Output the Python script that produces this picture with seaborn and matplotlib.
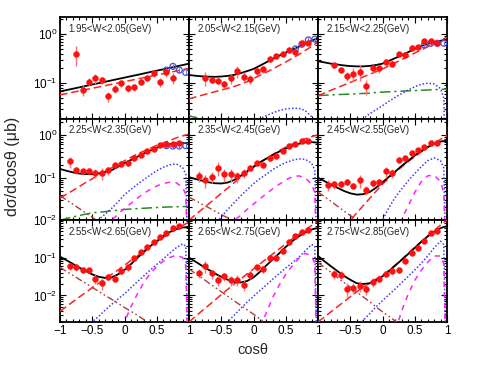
import numpy as np
import pandas as pd
import matplotlib
matplotlib.use("Agg")
import matplotlib.pyplot as plt
import seaborn as sns
from matplotlib.ticker import LogLocator, NullFormatter, FixedLocator, FixedFormatter, MultipleLocator

sns.set_theme(style="ticks")
plt.rcParams['font.family'] = ['Liberation Sans', 'DejaVu Sans']
plt.rcParams['mathtext.fontset'] = 'custom'
plt.rcParams['mathtext.rm'] = 'Liberation Sans'
plt.rcParams['mathtext.it'] = 'Liberation Sans:italic'
plt.rcParams['axes.unicode_minus'] = True

N = None

# cos(theta) grid on which the model curves were read
G = [-1.0, -0.9, -0.8, -0.7, -0.6, -0.5, -0.4, -0.3, -0.2, -0.1, 0.0,
     0.1, 0.2, 0.3, 0.4, 0.5, 0.6, 0.7, 0.8, 0.9, 0.95, 1.0]

titles = ["1.95<W<2.05(GeV)", "2.05<W<2.15(GeV)", "2.15<W<2.25(GeV)",
          "2.25<W<2.35(GeV)", "2.35<W<2.45(GeV)", "2.45<W<2.55(GeV)",
          "2.55<W<2.65(GeV)", "2.65<W<2.75(GeV)", "2.75<W<2.85(GeV)"]

# ---------------- data points (red: this work, blue: other data) -------------
x18 = [-0.85, -0.75, -0.65, -0.55, -0.45, -0.35, -0.25, -0.15, -0.05,
       0.05, 0.15, 0.25, 0.35, 0.45, 0.55, 0.65, 0.75, 0.85]

p1_x = x18[1:17]
p1_y = [0.39, 0.073, 0.108, 0.126, 0.116, 0.054, 0.076, 0.10, 0.079, 0.083,
        0.108, 0.13, 0.16, 0.105, 0.17, 0.13]
p1_e = [0.17, 0.018, 0.02, 0.03, 0.02, 0.012, 0.014, 0.015, 0.012, 0.013,
        0.018, 0.02, 0.025, 0.02, 0.035, 0.035]
p1_bx = [0.65, 0.75, 0.85, 0.95]
p1_by = [0.185, 0.22, 0.185, 0.165]

p2_x = x18[1:]
p2_y = [0.126, 0.117, 0.111, 0.097, 0.126, 0.178, 0.136, 0.122, 0.178, 0.195,
        0.31, 0.36, 0.39, 0.47, 0.44, 0.65, 0.67]
p2_e = [0.04, 0.015, 0.015, 0.015, 0.03, 0.05, 0.03, 0.025, 0.03, 0.03,
        0.04, 0.04, 0.04, 0.05, 0.05, 0.07, 0.07]
p2_bx = [0.65, 0.75, 0.85, 0.95]
p2_by = [0.50, 0.62, 0.76, 0.79]

p3_x = x18[1:]
p3_y = [0.23, 0.19, 0.14, 0.155, 0.17, 0.088, 0.2, 0.2, 0.27, 0.25, 0.39,
        0.37, 0.53, 0.55, 0.72, 0.73, 0.67]
p3_e = [0.03, 0.02, 0.03, 0.05, 0.06, 0.03, 0.04, 0.04, 0.04, 0.04, 0.05,
        0.05, 0.06, 0.06, 0.08, 0.08, 0.08]
p3_bx = [0.65, 0.75, 0.85, 0.95]
p3_by = [0.60, 0.65, 0.65, 0.65]

p4_x = x18
p4_y = [0.24, 0.15, 0.14, 0.145, 0.13, 0.13, 0.148, 0.195, 0.21, 0.22, 0.29,
        0.34, 0.43, 0.47, 0.58, 0.60, 0.60, 0.66]
p4_e = [0.07, 0.03, 0.02, 0.02, 0.03, 0.04, 0.03, 0.03, 0.03, 0.03, 0.04,
        0.04, 0.05, 0.05, 0.06, 0.06, 0.06, 0.07]
p4_bx = [0.65, 0.75, 0.85, 0.95]
p4_by = [0.56, 0.55, 0.55, 0.56]

p5_x = x18
p5_y = [0.11, 0.086, 0.105, 0.17, 0.12, 0.12, 0.107, 0.13, 0.17, 0.22, 0.2,
        0.29, 0.33, 0.42, 0.56, 0.62, 0.73, 0.73]
p5_e = [0.03, 0.03, 0.03, 0.06, 0.04, 0.04, 0.03, 0.03, 0.03, 0.03, 0.03,
        0.04, 0.04, 0.05, 0.06, 0.06, 0.07, 0.07]

p6_x = x18
p6_y = [0.068, 0.07, 0.07, 0.079, 0.065, 0.086, 0.052, 0.074, 0.078, 0.14,
        0.13, 0.26, 0.29, 0.37, 0.45, 0.53, 0.66, 0.64]
p6_e = [0.02, 0.015, 0.012, 0.012, 0.012, 0.03, 0.012, 0.015, 0.015, 0.04,
        0.03, 0.04, 0.04, 0.04, 0.05, 0.05, 0.06, 0.06]

p7_x = x18
p7_y = [0.06, 0.055, 0.048, 0.046, 0.028, 0.021, 0.031, 0.028, 0.045, 0.055,
        0.095, 0.14, 0.19, 0.26, 0.35, 0.45, 0.59, 0.67]
p7_e = [0.012, 0.01, 0.008, 0.008, 0.008, 0.007, 0.006, 0.006, 0.008, 0.01,
        0.012, 0.015, 0.02, 0.025, 0.03, 0.04, 0.05, 0.05]

p8_x = x18
p8_y = [0.039, 0.06, 0.038, 0.026, 0.032, 0.025, 0.026, 0.019, 0.035, 0.055,
        0.05, 0.1, 0.1, 0.15, 0.25, 0.37, 0.48, 0.52]
p8_e = [0.01, 0.02, 0.01, 0.008, 0.008, 0.007, 0.008, 0.006, 0.008, 0.01,
        0.01, 0.015, 0.015, 0.02, 0.03, 0.04, 0.05, 0.05]

p9_x = x18[1:]
p9_y = [0.037, 0.035, 0.015, 0.016, 0.018, 0.015, 0.023, 0.028, 0.037, 0.045,
        0.047, 0.082, 0.135, 0.18, 0.28, 0.45, 0.5]
p9_e = [0.01, 0.008, 0.006, 0.005, 0.006, 0.005, 0.006, 0.006, 0.007, 0.008,
        0.008, 0.012, 0.02, 0.025, 0.03, 0.04, 0.05]

# ---------------- model curves read on grid G --------------------------------
# total (black), t-channel (red dashed), s-channel (blue dotted),
# s-channel second (magenta dashed), contact (green dash-dot), u-channel (brown)
p1_tot = [0.068, 0.0726, 0.0774, 0.0826, 0.0882, 0.0941, 0.1004, 0.1071, 0.1143, 0.122, 0.130,
          0.139, 0.148, 0.158, 0.169, 0.180, 0.192, 0.205, 0.219, 0.234, 0.242, 0.25]
p1_t = [0.058, 0.0617, 0.0656, 0.0698, 0.0743, 0.079, 0.084, 0.0894, 0.0951, 0.1012, 0.1077,
        0.1146, 0.1219, 0.1297, 0.138, 0.1468, 0.1562, 0.1662, 0.1768, 0.1881, 0.194, 0.200]

p2_tot = [0.147, 0.142, 0.138, 0.136, 0.135, 0.137, 0.141, 0.148, 0.160, 0.176, 0.195,
          0.228, 0.267, 0.312, 0.365, 0.42, 0.48, 0.55, 0.63, 0.73, 0.78, 0.83]
p2_t = [0.048, 0.0525, 0.057, 0.062, 0.067, 0.073, 0.079, 0.086, 0.095, 0.107, 0.125,
        0.145, 0.168, 0.195, 0.23, 0.27, 0.32, 0.38, 0.46, 0.56, 0.62, 0.68]
p2_s = [N, N, N, N, N, N, N, N, N, 0.013, 0.016,
        0.019, 0.022, 0.025, 0.028, 0.030, 0.031, 0.031, 0.028, 0.021, 0.014, 1e-4]
p2_c = [0.022, 0.020, 0.018, 0.016, N, N, N, N, N, N, N,
        N, N, N, N, N, N, N, N, N, N, N]

p3_tot = [0.28, 0.265, 0.25, 0.24, 0.23, 0.223, 0.22, 0.22, 0.225, 0.235, 0.25,
          0.285, 0.325, 0.375, 0.43, 0.50, 0.57, 0.63, 0.69, 0.73, 0.75, 0.76]
p3_t = [0.056, 0.063, 0.072, 0.081, 0.092, 0.104, 0.118, 0.134, 0.152, 0.172, 0.195,
        0.226, 0.262, 0.304, 0.353, 0.41, 0.475, 0.55, 0.64, 0.74, 0.80, 0.86]
p3_s = [N, N, N, N, N, N, 0.015, 0.019, 0.024, 0.029, 0.035,
        0.043, 0.052, 0.062, 0.073, 0.085, 0.095, 0.10, 0.097, 0.078, 0.05, 1e-4]
p3_c = [0.056, 0.057, 0.058, 0.059, 0.0595, 0.060, 0.061, 0.062, 0.063, 0.065, 0.066,
        0.067, 0.068, 0.069, 0.070, 0.071, 0.072, 0.073, 0.074, 0.075, 0.0755, 0.076]

p4_tot = [0.16, 0.145, 0.133, 0.125, 0.121, 0.121, 0.126, 0.135, 0.15, 0.18, 0.22,
          0.26, 0.31, 0.37, 0.43, 0.50, 0.56, 0.61, 0.64, 0.65, 0.645, 0.64]
p4_t = [0.033, 0.041, 0.05, 0.062, 0.077, 0.094, 0.115, 0.14, 0.17, 0.205, 0.25,
        0.30, 0.36, 0.42, 0.49, 0.57, 0.65, 0.74, 0.85, 0.95, 1.0, 1.05]
p4_s = [N, N, N, N, N, 0.008, 0.0105, 0.014, 0.019, 0.027, 0.04,
        0.053, 0.07, 0.09, 0.115, 0.145, 0.175, 0.20, 0.21, 0.175, 0.12, 1e-4]
p4_m = [N, N, N, N, N, N, N, 0.007, 0.01, 0.014, 0.019,
        0.025, 0.033, 0.043, 0.053, 0.064, 0.073, 0.078, 0.076, 0.06, 0.04, 1e-4]
p4_c = [0.010, 0.011, 0.012, 0.013, 0.014, 0.015, 0.0155, 0.016, 0.0167, 0.0173, 0.018,
        0.0184, 0.0188, 0.0192, 0.0196, 0.020, 0.0203, 0.0206, 0.0208, 0.021, 0.021, 0.0212]
p4_u = [0.038, 0.030, 0.0238, 0.0188, 0.0149, 0.0118, 0.0093, 0.0074, N, N, N,
        N, N, N, N, N, N, N, N, N, N, N]

p5_tot = [0.103, 0.093, 0.085, 0.078, 0.074, 0.073, 0.077, 0.088, 0.11, 0.14, 0.18,
          0.23, 0.28, 0.34, 0.41, 0.48, 0.56, 0.62, 0.67, 0.68, 0.67, 0.66]
p5_t = [0.01, 0.0135, 0.018, 0.024, 0.032, 0.043, 0.057, 0.076, 0.10, 0.135, 0.175,
        0.225, 0.28, 0.35, 0.43, 0.52, 0.61, 0.71, 0.81, 0.91, 0.96, 1.0]
p5_s = [N, N, N, N, 0.008, 0.012, 0.018, 0.026, 0.037, 0.052, 0.072,
        0.095, 0.12, 0.155, 0.19, 0.225, 0.255, 0.275, 0.27, 0.22, 0.15, 1e-4]
p5_m = [N, N, N, N, N, N, 0.0075, 0.010, 0.013, 0.018, 0.024,
        0.032, 0.042, 0.055, 0.07, 0.088, 0.105, 0.11, 0.10, 0.07, 0.045, 1e-4]
p5_u = [0.035, 0.029, 0.024, 0.020, 0.0165, 0.0137, 0.0114, 0.0095, 0.0079, N, N,
        N, N, N, N, N, N, N, N, N, N, N]

p6_tot = [0.10, 0.083, 0.069, 0.058, 0.049, 0.043, 0.040, 0.041, 0.046, 0.058, 0.078,
          0.105, 0.14, 0.19, 0.25, 0.33, 0.42, 0.52, 0.62, 0.70, 0.72, 0.72]
p6_t = [N, N, N, N, 0.0068, 0.010, 0.0148, 0.022, 0.0325, 0.048, 0.07,
        0.098, 0.135, 0.18, 0.24, 0.31, 0.40, 0.51, 0.64, 0.79, 0.88, 0.97]
p6_s = [N, N, N, N, N, N, N, N, N, 0.007, 0.01,
        0.02, 0.035, 0.055, 0.085, 0.125, 0.18, 0.25, 0.29, 0.25, 0.17, 1e-4]
p6_m = [N, N, N, N, N, N, N, N, N, N, N,
        N, 0.005, 0.011, 0.022, 0.045, 0.08, 0.11, 0.115, 0.08, 0.045, 1e-4]
p6_u = [0.046, 0.036, 0.028, 0.0215, 0.0167, 0.013, 0.010, 0.0078, N, N, N,
        N, N, N, N, N, N, N, N, N, N, N]

p7_tot = [0.106, 0.085, 0.068, 0.054, 0.044, 0.036, 0.031, 0.029, 0.030, 0.036, 0.047,
          0.067, 0.098, 0.14, 0.20, 0.27, 0.37, 0.47, 0.56, 0.62, 0.63, 0.64]
p7_t = [0.0038, 0.0051, 0.0068, 0.0091, 0.012, 0.016, 0.021, 0.028, 0.036, 0.047, 0.063,
        0.084, 0.11, 0.15, 0.20, 0.26, 0.34, 0.44, 0.56, 0.70, 0.78, 0.85]
p7_s = [N, N, N, N, 0.0014, 0.002, 0.0028, 0.0041, 0.0058, 0.0081, 0.011,
        0.016, 0.023, 0.033, 0.047, 0.066, 0.092, 0.13, 0.18, 0.23, 0.2, 1e-5]
p7_m = [N, N, N, N, N, N, N, N, N, 0.0008, 0.002,
        0.005, 0.011, 0.022, 0.038, 0.058, 0.08, 0.1, 0.115, 0.1, 0.06, 1e-5]
p7_u = [0.055, 0.043, 0.034, 0.0265, 0.021, 0.0163, 0.0128, 0.010, 0.0079, 0.0062, 0.0048,
        0.0038, 0.003, 0.0023, 0.0018, N, N, N, N, N, N, N]

p8_tot = [0.10, 0.078, 0.061, 0.048, 0.038, 0.031, 0.026, 0.023, 0.022, 0.024, 0.030,
          0.042, 0.062, 0.09, 0.13, 0.19, 0.27, 0.36, 0.46, 0.55, 0.58, 0.6]
p8_t = [0.002, 0.0028, 0.0039, 0.0054, 0.0075, 0.0105, 0.0145, 0.02, 0.027, 0.037, 0.05,
        0.068, 0.092, 0.125, 0.17, 0.23, 0.31, 0.41, 0.54, 0.70, 0.8, 0.9]
p8_s = [N, N, N, N, N, 0.0014, 0.002, 0.003, 0.0045, 0.0066, 0.0095,
        0.0135, 0.019, 0.027, 0.038, 0.053, 0.073, 0.10, 0.15, 0.22, 0.2, 1e-5]
p8_m = [N, N, N, N, N, N, N, N, N, N, N,
        0.0015, 0.0035, 0.009, 0.019, 0.036, 0.06, 0.095, 0.13, 0.11, 0.07, 1e-5]
p8_u = [0.05, 0.038, 0.029, 0.0218, 0.0165, 0.0126, 0.0095, 0.0072, 0.0055, 0.0042, 0.0032,
        0.0024, 0.0018, N, N, N, N, N, N, N, N, N]

p9_tot = [0.11, 0.08, 0.059, 0.044, 0.033, 0.026, 0.021, 0.020, 0.021, 0.025, 0.032,
          0.044, 0.062, 0.088, 0.125, 0.18, 0.26, 0.36, 0.48, 0.6, 0.64, 0.67]
p9_t = [0.002, 0.0027, 0.0037, 0.005, 0.0068, 0.0092, 0.0125, 0.0165, 0.021, 0.027, 0.034,
        0.046, 0.064, 0.09, 0.13, 0.185, 0.26, 0.37, 0.52, 0.72, 0.85, 0.98]
p9_s = [N, N, N, N, N, N, 0.0015, 0.0022, 0.0033, 0.005, 0.0073,
        0.0105, 0.015, 0.022, 0.032, 0.047, 0.07, 0.11, 0.18, 0.27, 0.22, 1e-5]
p9_m = [N, N, N, N, N, N, N, N, N, N, N,
        N, 0.0012, 0.004, 0.011, 0.025, 0.046, 0.075, 0.11, 0.11, 0.07, 1e-5]
p9_u = [0.074, 0.055, 0.041, 0.030, 0.022, 0.0167, 0.0123, 0.0092, 0.0068, 0.005, 0.0037,
        0.0028, 0.0021, 0.0015, N, N, N, N, N, N, N, N]

row_ylims = [(0.019, 2.2), (0.01, 2.4), (0.002, 0.96)]

panels = [
    dict(x=p1_x, y=p1_y, e=p1_e, bx=p1_bx, by=p1_by, curves=dict(tot=p1_tot, t=p1_t)),
    dict(x=p2_x, y=p2_y, e=p2_e, bx=p2_bx, by=p2_by, curves=dict(tot=p2_tot, t=p2_t, s=p2_s, c=p2_c)),
    dict(x=p3_x, y=p3_y, e=p3_e, bx=p3_bx, by=p3_by, curves=dict(tot=p3_tot, t=p3_t, s=p3_s, c=p3_c)),
    dict(x=p4_x, y=p4_y, e=p4_e, bx=p4_bx, by=p4_by,
         curves=dict(tot=p4_tot, t=p4_t, s=p4_s, m=p4_m, c=p4_c, u=p4_u)),
    dict(x=p5_x, y=p5_y, e=p5_e, curves=dict(tot=p5_tot, t=p5_t, s=p5_s, m=p5_m, u=p5_u)),
    dict(x=p6_x, y=p6_y, e=p6_e, curves=dict(tot=p6_tot, t=p6_t, s=p6_s, m=p6_m, u=p6_u)),
    dict(x=p7_x, y=p7_y, e=p7_e, curves=dict(tot=p7_tot, t=p7_t, s=p7_s, m=p7_m, u=p7_u)),
    dict(x=p8_x, y=p8_y, e=p8_e, curves=dict(tot=p8_tot, t=p8_t, s=p8_s, m=p8_m, u=p8_u)),
    dict(x=p9_x, y=p9_y, e=p9_e, curves=dict(tot=p9_tot, t=p9_t, s=p9_s, m=p9_m, u=p9_u)),
]

styles = {
    'c':   dict(color='#2e8b22', ls=(0, (7, 2.5, 1.5, 2.5)), lw=1.1),
    'u':   dict(color='#a8403a', ls=(0, (5, 2, 1.2, 2, 1.2, 2)), lw=1.0),
    's':   dict(color='#3a3aff', ls=(0, (1.0, 1.3)), lw=1.1),
    'm':   dict(color='#ff22ff', ls=(0, (3.5, 3.5)), lw=1.1),
    't':   dict(color='#ff2020', ls=(0, (5, 2.5)), lw=1.1),
    'tot': dict(color='black', ls='-', lw=1.3),
}
draw_order = ['c', 'u', 's', 'm', 't', 'tot']

fig, axes = plt.subplots(3, 3, figsize=(5.0, 3.65), dpi=100)
fig.subplots_adjust(left=0.12, right=0.894, top=0.953, bottom=0.118, wspace=0, hspace=0)

for i, (ax, p) in enumerate(zip(axes.flat, panels)):
    r, c = divmod(i, 3)
    ax.set_yscale('log')
    for key in draw_order:
        if key not in p['curves']:
            continue
        vals = [np.nan if v is None else v for v in p['curves'][key]]
        df = pd.DataFrame({'x': G, 'y': vals}).dropna()
        st = styles[key]
        sns.lineplot(data=df, x='x', y='y', ax=ax, color=st['color'], linestyle=st['ls'],
                     linewidth=st['lw'], estimator=None, sort=False, zorder=3)
    # blue open circles
    if 'bx' in p:
        ax.errorbar(p['bx'], p['by'], yerr=[v * 0.12 for v in p['by']], fmt='none',
                    ecolor='#7070e0', elinewidth=0.8, zorder=4)
        sns.scatterplot(x=p['bx'], y=p['by'], ax=ax, s=18, facecolor='none',
                        edgecolor='#5050d0', linewidth=0.9, zorder=5)
    # red data
    ax.errorbar(p['x'], p['y'], yerr=p['e'], fmt='none', ecolor='#ff7070',
                elinewidth=1.0, zorder=5)
    sns.scatterplot(x=p['x'], y=p['y'], ax=ax, s=18, color='#ff1010',
                    edgecolor='#ff1010', linewidth=0.3, zorder=6)

    ax.set_xlim(-1, 1)
    ax.set_ylim(*row_ylims[r])
    ax.set_xlabel('')
    ax.set_ylabel('')
    ax.xaxis.set_major_locator(FixedLocator([-1, -0.5, 0, 0.5, 1]))
    ax.xaxis.set_minor_locator(MultipleLocator(0.1))
    if r == 2:
        labs = ['\u22121', '\u22120.5', '0', '0.5', '1'] if c == 0 else ['', '\u22120.5', '0', '0.5', '1']
        ax.xaxis.set_major_formatter(FixedFormatter(labs))
    else:
        ax.set_xticklabels([])
    ax.yaxis.set_major_locator(LogLocator(base=10, numticks=10))
    ax.yaxis.set_minor_locator(LogLocator(base=10, subs=np.arange(2, 10), numticks=20))
    ax.yaxis.set_minor_formatter(NullFormatter())
    if c != 0:
        ax.set_yticklabels([])
    ax.tick_params(which='both', direction='in', top=True, right=True, width=0.8,
                   colors='black', labelsize=8.5, pad=2)
    ax.tick_params(which='major', length=4)
    ax.tick_params(which='minor', length=2)
    for sp in ax.spines.values():
        sp.set_linewidth(1.3)
        sp.set_color('black')
    ax.text(0.065, 0.885, titles[i], transform=ax.transAxes, fontsize=6.9,
            ha='left', va='center', zorder=7)

fig.text(0.026, 0.545, 'd\u03c3/dcos\u03b8 (\u03bcb)', rotation=90, ha='center', va='center',
         fontsize=11.5)
fig.text(0.505, 0.04, 'cos\u03b8', ha='center', va='center', fontsize=10.5)

fig.savefig('out.png', dpi=100, facecolor='white')
